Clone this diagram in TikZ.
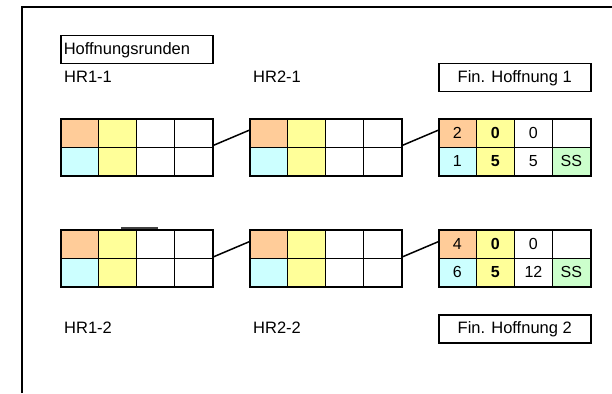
\documentclass[tikz,border=0pt]{standalone}
\usepackage{fontspec}
\setmainfont{Liberation Sans}
\definecolor{orangecell}{HTML}{FFCC99}
\definecolor{yellowcell}{HTML}{FFFF99}
\definecolor{cyancell}{HTML}{CCFFFF}
\definecolor{greencell}{HTML}{CCFFCC}
\begin{document}
\begin{tikzpicture}[x=1pt,y=-1pt,
 cell/.style={draw, line width=0.8pt, minimum width=38pt, minimum height=28.5pt, inner sep=0pt, anchor=north west, font=\fontsize{16}{18}\selectfont},
 gridframe/.style={draw, line width=1.6pt, minimum width=152pt, minimum height=57pt, inner sep=0pt, anchor=north west},
 lbl/.style={anchor=west, inner sep=0pt, font=\fontsize{16.5}{19}\selectfont},
 titlebox/.style={draw, line width=1.5pt, minimum width=152pt, minimum height=28pt, inner sep=0pt, anchor=north west, font=\fontsize{16.5}{19}\selectfont},
 link/.style={line width=1.5pt},
 frameline/.style={line width=1.3pt}]
\useasboundingbox (0,0) rectangle (612,393);
\draw[frameline] (22,393) -- (22,7) -- (612,7);

% title boxes
\node[titlebox, text width=146pt, align=left] (hr) at (60,35) {Hoffnungsrunden};
\node[titlebox, align=center] (fin1) at (438,63) {Fin. Hoffnung 1};
\node[titlebox, align=center] (fin2) at (438,314) {Fin. Hoffnung 2};

% labels
\node[lbl] (l11) at (64,77) {HR1-1};
\node[lbl] (l21) at (253,77) {HR2-1};
\node[lbl] (l12) at (64,328) {HR1-2};
\node[lbl] (l22) at (253,328) {HR2-2};

% grids
\foreach \g/\gx/\gy/\ta/\tb/\tc/\ba/\bb/\bc/\bd/\fd in {
  A/60/118/{}/{}/{}/{}/{}/{}/{}/white,
  B/249/118/{}/{}/{}/{}/{}/{}/{}/white,
  C/438/118/2/{\textbf{0}}/0/1/{\textbf{5}}/5/SS/greencell,
  D/60/229/{}/{}/{}/{}/{}/{}/{}/white,
  E/249/229/{}/{}/{}/{}/{}/{}/{}/white,
  F/438/229/4/{\textbf{0}}/0/6/{\textbf{5}}/12/SS/greencell}{
  \node[cell, fill=orangecell] (\g11) at (\gx,\gy) {\ta};
  \node[cell, fill=yellowcell] (\g12) at (\gx+38,\gy) {\tb};
  \node[cell, fill=white] (\g13) at (\gx+76,\gy) {\tc};
  \node[cell, fill=white] (\g14) at (\gx+114,\gy) {};
  \node[cell, fill=cyancell] (\g21) at (\gx,\gy+28.5) {\ba};
  \node[cell, fill=yellowcell] (\g22) at (\gx+38,\gy+28.5) {\bb};
  \node[cell, fill=white] (\g23) at (\gx+76,\gy+28.5) {\bc};
  \node[cell, fill=\fd] (\g24) at (\gx+114,\gy+28.5) {\bd};
  \node[gridframe] (\g) at (\gx,\gy) {};
}

% connectors
\draw[link] ([yshift=2pt]A.east) -- ([yshift=17pt]B.west);
\draw[link] ([yshift=2pt]B.east) -- ([yshift=17pt]C.west);
\draw[link] ([yshift=1.5pt]D.east) -- ([yshift=16.5pt]E.west);
\draw[link] ([yshift=1.5pt]E.east) -- ([yshift=16.5pt]F.west);

% small mark on top of lower-left grid
\coordinate (m1) at (121,228);
\coordinate (m2) at (158,228);
\draw[line width=1.5pt, black!75] (m1) -- (m2);
\end{tikzpicture}
\end{document}
